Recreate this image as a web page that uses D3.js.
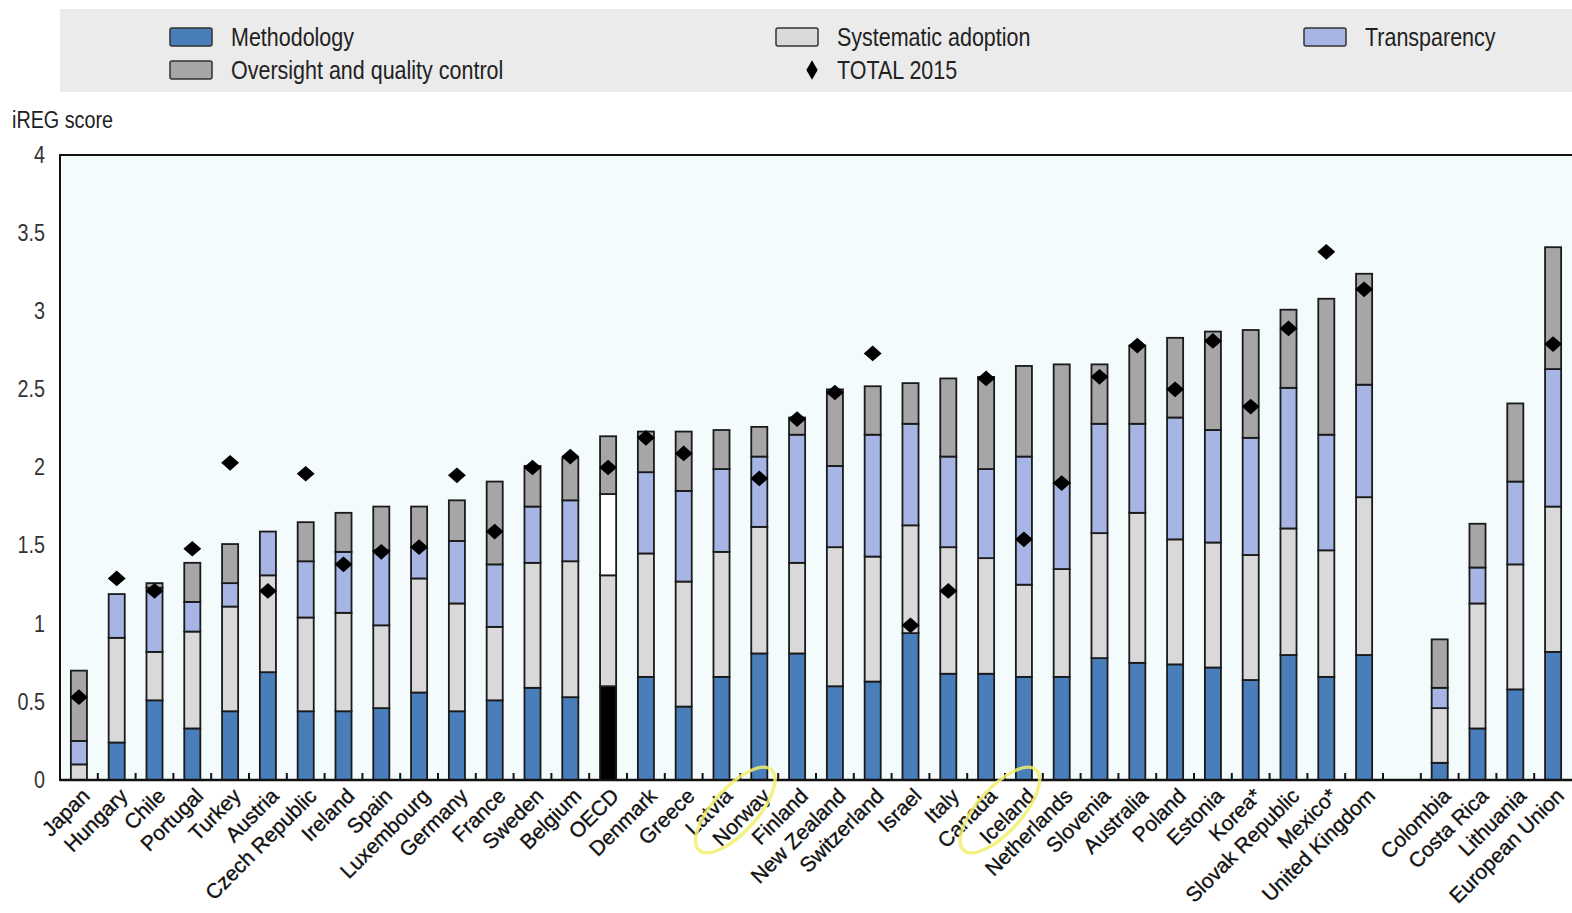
<!DOCTYPE html>
<html>
<head>
<meta charset="utf-8">
<script src="https://cdn.jsdelivr.net/npm/d3@7"></script>
<style>
  body { margin: 0; background: #fff; }
  text { font-family: "Liberation Sans", Arial, sans-serif; }
</style>
</head>
<body>
<svg id="chart" width="1572" height="913"></svg>
<script>
// categories, left block then the non-member block after a gap
const countries = ["Japan", "Hungary", "Chile", "Portugal", "Turkey", "Austria", "Czech Republic",
    "Ireland", "Spain", "Luxembourg", "Germany", "France", "Sweden", "Belgium", "OECD", "Denmark",
    "Greece", "Latvia", "Norway", "Finland", "New Zealand", "Switzerland", "Israel", "Italy", "Canada",
    "Iceland", "Netherlands", "Slovenia", "Australia", "Poland", "Estonia", "Korea*", "Slovak Republic",
    "Mexico*", "United Kingdom"];
const others = ["Colombia", "Costa Rica", "Lithuania", "European Union"];

// segment values (same order as countries, then others)
const methodology = [0, 0.24, 0.51, 0.33, 0.44, 0.69, 0.44, 0.44, 0.46, 0.56, 0.44, 0.51, 0.59, 0.53, 0.60,
    0.66, 0.47, 0.66, 0.81, 0.81, 0.60, 0.63, 0.94, 0.68, 0.68, 0.66, 0.66, 0.78, 0.75, 0.74, 0.72, 0.64,
    0.80, 0.66, 0.80, 0.11, 0.33, 0.58, 0.82];
const systematic = [0.10, 0.67, 0.31, 0.62, 0.67, 0.62, 0.60, 0.63, 0.53, 0.73, 0.69, 0.47, 0.80, 0.87, 0.71,
    0.79, 0.80, 0.80, 0.81, 0.58, 0.89, 0.80, 0.69, 0.81, 0.74, 0.59, 0.69, 0.80, 0.96, 0.80, 0.80, 0.80,
    0.81, 0.81, 1.01, 0.35, 0.80, 0.80, 0.93];
const transparency = [0.15, 0.28, 0.41, 0.19, 0.15, 0.28, 0.36, 0.39, 0.48, 0.20, 0.40, 0.40, 0.36, 0.39, 0.52,
    0.52, 0.58, 0.53, 0.45, 0.82, 0.52, 0.78, 0.65, 0.58, 0.57, 0.82, 0.55, 0.70, 0.57, 0.78, 0.72, 0.75,
    0.90, 0.74, 0.72, 0.13, 0.23, 0.53, 0.88];
const oversight = [0.45, 0, 0.03, 0.25, 0.25, 0, 0.25, 0.25, 0.28, 0.26, 0.26, 0.53, 0.26, 0.27, 0.37,
    0.26, 0.38, 0.25, 0.19, 0.11, 0.49, 0.31, 0.26, 0.50, 0.59, 0.58, 0.76, 0.38, 0.50, 0.51, 0.63, 0.69,
    0.50, 0.87, 0.71, 0.31, 0.28, 0.50, 0.78];
const total2015 = [0.53, 1.29, 1.21, 1.48, 2.03, 1.21, 1.96, 1.38, 1.46, 1.49, 1.95, 1.59, 2.00, 2.07, 2.00,
    2.19, 2.09, null, 1.93, 2.31, 2.48, 2.73, 0.99, 1.21, 2.57, 1.54, 1.90, 2.58, 2.78, 2.50, 2.81, 2.39,
    2.89, 3.38, 3.14, null, null, null, 2.79];

const yTicks = [0, 0.5, 1, 1.5, 2, 2.5, 3, 3.5, 4];
const circled = ["Norway", "Iceland"];

const series = [
    {key: "methodology", label: "Methodology", color: "#4a7ebb", oecd: "#000000"},
    {key: "systematic", label: "Systematic adoption", color: "#d9d9d9", oecd: "#d9d9d9"},
    {key: "transparency", label: "Transparency", color: "#a6b5e3", oecd: "#ffffff"},
    {key: "oversight", label: "Oversight and quality control", color: "#a6a6a6", oecd: "#a6a6a6"}
];

const names = countries.concat(others);
const rows = names.map((name, i) => ({
    name: name,
    methodology: methodology[i],
    systematic: systematic[i],
    transparency: transparency[i],
    oversight: oversight[i],
    total: total2015[i]
}));

const margin = {left: 60, right: 0, top: 155, bottom: 133};
const width = 1572, height = 913;
const squeeze = 0.86; // the source text is set in a condensed face
const svg = d3.select("#chart");

const x = d3.scaleBand()
    .domain(countries.concat(["__gap"], others))
    .range([margin.left, width - margin.right])
    .paddingInner(0.575)
    .paddingOuter(0.2875);

const y = d3.scaleLinear().domain([0, 4]).range([height - margin.bottom, margin.top]);

// legend panel
const legend = svg.append("g");
legend.append("rect")
    .attr("x", 60).attr("y", 9).attr("width", 1512).attr("height", 83)
    .attr("fill", "#ebebeb");

const legendItems = [
    {s: series[0], x: 170, y: 37},
    {s: series[3], x: 170, y: 70},
    {s: series[1], x: 776, y: 37},
    {s: series[2], x: 1304, y: 37}
];
legendItems.forEach(d => {
    legend.append("rect")
        .attr("x", d.x).attr("y", d.y - 9).attr("width", 42).attr("height", 18).attr("rx", 2)
        .attr("fill", d.s.color).attr("stroke", "#333").attr("stroke-width", 1.5);
    legend.append("text")
        .attr("transform", `translate(${d.x + 61},${d.y}) scale(${squeeze},1)`)
        .attr("dy", "0.35em")
        .style("font-size", "25px").attr("fill", "#222")
        .text(d.s.label);
});
legend.append("path")
    .attr("d", d3.symbol(d3.symbolDiamond, 110)())
    .attr("transform", "translate(812,70)")
    .attr("fill", "#000");
legend.append("text")
    .attr("transform", `translate(837,70) scale(${squeeze},1)`)
    .attr("dy", "0.35em")
    .style("font-size", "25px").attr("fill", "#222")
    .text("TOTAL 2015");

// plot background and frame
svg.append("rect")
    .attr("x", margin.left).attr("y", margin.top)
    .attr("width", width - margin.left - margin.right + 2).attr("height", y(0) - margin.top)
    .attr("fill", "#f4fbfd").attr("stroke", "#111").attr("stroke-width", 2);

svg.append("text")
    .attr("transform", `translate(12,128) scale(${squeeze},1)`)
    .style("font-size", "23px").attr("fill", "#222")
    .text("iREG score");

// y axis
const yAxis = d3.axisLeft(y).tickValues(yTicks).tickSize(0).tickPadding(15)
    .tickFormat(d => String(d));
const gy = svg.append("g").attr("transform", `translate(${margin.left},0)`).call(yAxis);
gy.select(".domain").remove();
gy.selectAll("text").style("font-size", "23px").attr("fill", "#333")
    .attr("transform", `translate(-15,0) scale(${squeeze},1)`).attr("x", 0);

// stacked bars
const stack = d3.stack().keys(series.map(s => s.key));
const stacked = stack(rows);

stacked.forEach((layer, li) => {
    svg.append("g").selectAll("rect")
        .data(layer.filter(d => d[1] - d[0] > 0))
        .join("rect")
        .attr("x", d => x(d.data.name))
        .attr("width", x.bandwidth())
        .attr("y", d => y(d[1]))
        .attr("height", d => y(d[0]) - y(d[1]))
        .attr("fill", d => d.data.name === "OECD" ? series[li].oecd : series[li].color)
        .attr("stroke", "#1a1a1a")
        .attr("stroke-width", 1.8);
});

// x axis: ticks between bands, pointing up
const boundaries = x.domain().slice(1).map(n => x(n) - x.step() * x.paddingInner() / 2);
const gx = svg.append("g");
gx.append("line")
    .attr("x1", margin.left).attr("x2", width)
    .attr("y1", y(0)).attr("y2", y(0))
    .attr("stroke", "#111").attr("stroke-width", 2.5);
gx.selectAll(".tick")
    .data(boundaries)
    .join("line")
    .attr("x1", d => d).attr("x2", d => d)
    .attr("y1", y(0)).attr("y2", y(0) - 7)
    .attr("stroke", "#111").attr("stroke-width", 2);

gx.selectAll(".lab")
    .data(names)
    .join("text")
    .attr("transform", d => `translate(${x(d) + x.bandwidth() / 2 + 7},${y(0) + 12}) rotate(-45)`)
    .attr("text-anchor", "end")
    .attr("dy", "0.35em")
    .style("font-size", "21px")
    .attr("fill", "#111")
    .attr("stroke", "#111").attr("stroke-width", 0.35)
    .text(d => d);

// TOTAL 2015 diamonds
svg.append("g").selectAll("path")
    .data(rows.filter(d => d.total !== null))
    .join("path")
    .attr("d", d3.symbol(d3.symbolSquare, 160)())
    .attr("transform", d => `translate(${x(d.name) + x.bandwidth() / 2},${y(d.total)}) scale(1,0.88) rotate(45)`)
    .attr("fill", "#000");

// hand-drawn yellow circles around two labels
svg.append("g").selectAll("ellipse")
    .data(circled)
    .join("ellipse")
    .attr("transform", d => `translate(${x(d) + x.bandwidth() / 2 - 24},${y(0) + 30}) rotate(-48)`)
    .attr("rx", 54).attr("ry", 22)
    .attr("fill", "none")
    .attr("stroke", "#f2ee70")
    .attr("stroke-width", 3.5)
    .attr("opacity", 0.85);
</script>
</body>
</html>
